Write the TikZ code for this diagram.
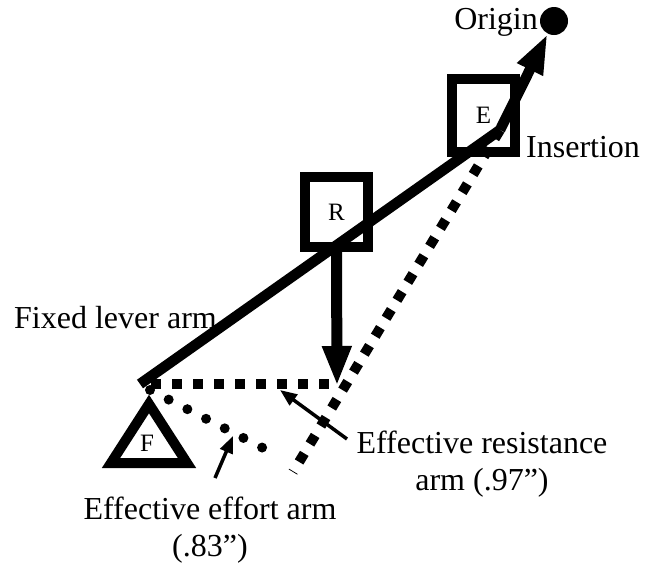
\documentclass[tikz,border=0pt]{standalone}
\usepackage{fontspec}
\setmainfont{Liberation Serif}
\usetikzlibrary{arrows.meta}

\begin{document}
\begin{tikzpicture}[x=1pt,y=-1pt,
  lever/.style={black,line width=10.5pt},
  joint/.style={draw=black,line width=10pt,minimum width=63pt,minimum height=73pt},
  armline/.style={black,line width=10pt,dash pattern=on 10pt off 11pt},
  dotline/.style={black,line width=10pt,line cap=round,dash pattern=on 0pt off 21pt},
  pointer/.style={black,line width=3.5pt,-{Triangle[length=17pt,width=13pt]}},
  words/.style={font=\fontsize{32}{37}\selectfont},
  jointletter/.style={font=\fontsize{25}{30}\selectfont}]
\tikzstyle{every node}+=[inner sep=0pt]
\useasboundingbox (0,0) rectangle (648,563);
\coordinate (pivot) at (140,384);
\coordinate (ins) at (500,130);
\coordinate (rfoot) at (337,386);
\coordinate (rbase) at (338,384);
\coordinate (dotstart) at (150,390);
\coordinate (dotend) at (263,448);
\coordinate (armend) at (293,472);
\coordinate (effortfoot) at (215,478);
\coordinate (effortpt) at (233,436);
\coordinate (resfoot) at (347,439);
\coordinate (respt) at (280,390);
\node [circle,fill=black,minimum size=28pt] (origin) at (554,21) {};
\node [joint,jointletter] (E) at (483.5,115.5) {E};
\node [joint,jointletter,minimum height=70pt] (R) at (336.5,212) {R};
\draw [black,line width=10pt,line join=miter] (149,404) -- (187,463) -- (111,463) -- cycle;
\node [jointletter] (F) at (147,443) {F};
\draw [armline,dash phase=10pt] (pivot) -- (rbase);
\draw [armline] (ins) -- (armend);
\draw [dotline] (dotstart) -- (dotend);
\draw [lever] (pivot) -- (ins);
\draw [lever,line width=11pt,-{Triangle[length=40pt,width=27pt]}] (R.south) -- (rfoot);
\draw [lever,-{Triangle[length=40pt,width=26pt]}] (ins) -- (origin);
\node [words,anchor=base east] (origintext) at (538,29) {Origin};
\node [words,anchor=base west] (instext) at (526,157) {Insertion};
\node [words,anchor=base west] (fixedtext) at (14,328) {Fixed lever arm};
\node [words,align=center,anchor=base] (restext) at (482,490) {Effective resistance\\arm (.97'')};
\node [words,align=center,anchor=base] (efftext) at (210,556) {Effective effort arm\\(.83'')};
\draw [pointer] (effortfoot) -- (effortpt);
\draw [pointer] (resfoot) -- (respt);
\end{tikzpicture}
\end{document}
